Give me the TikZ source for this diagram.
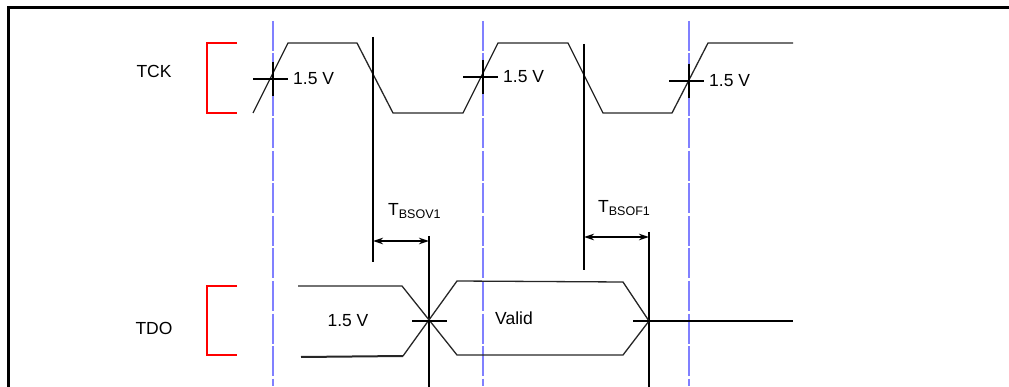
\documentclass[tikz,border=0pt]{standalone}
\usepackage{fontspec}
\setmainfont{Liberation Sans}
\usetikzlibrary{arrows.meta}
\definecolor{guide}{HTML}{8080FF}
\tikzset{
  frame/.style={line width=2.8pt,black},
  wave/.style={line width=1.3pt,black!85},
  guideline/.style={line width=2.7pt,guide,dash pattern=on 30pt off 2.5pt},
  bracket/.style={line width=2.4pt,red},
  marker/.style={line width=2.2pt,black},
  dim/.style={line width=2.2pt,black,{Stealth[length=10pt,width=6.5pt]}-{Stealth[length=10pt,width=6.5pt]}},
  lbl/.style={inner sep=0pt,font=\fontsize{17.5}{20}\selectfont},
}
\begin{document}
\begin{tikzpicture}[x=1pt,y=-1pt]
\useasboundingbox (0,0) rectangle (1009,387);
% frame
\coordinate (fb) at (8.5,387);
\coordinate (ft) at (8.5,7.5);
\coordinate (fr) at (1009,7.5);
\draw[frame] (fb) -- (ft) -- (fr);
% guide lines
\foreach \n/\x in {g1/273,g2/483,g3/689}{
  \coordinate (\n t) at (\x,21);
  \coordinate (\n b) at (\x,386);
  \draw[guideline] (\n t) -- (\n b);
}
% labels
\node[lbl] (tck) at (154,71) {TCK};
\node[lbl] (tdo) at (154,328) {TDO};
% brackets
\coordinate (b1a) at (237,43); \coordinate (b1b) at (207,43);
\coordinate (b1c) at (207,113); \coordinate (b1d) at (237,113);
\draw[bracket] (b1a) -- (b1b) -- (b1c) -- (b1d);
\coordinate (b2a) at (237,286); \coordinate (b2b) at (207,286);
\coordinate (b2c) at (207,355); \coordinate (b2d) at (237,355);
\draw[bracket] (b2a) -- (b2b) -- (b2c) -- (b2d);
% TCK waveform
\coordinate (k0) at (253,113); \coordinate (k1) at (288,43);
\coordinate (k2) at (357,43);  \coordinate (k3) at (393,113);
\coordinate (k4) at (463,113); \coordinate (k5) at (498,43);
\coordinate (k6) at (568,43);  \coordinate (k7) at (603,113);
\coordinate (k8) at (672,113); \coordinate (k9) at (708,43);
\coordinate (k10) at (793,43);
\draw[wave] (k0) -- (k1) -- (k2) -- (k3) -- (k4) -- (k5) -- (k6) -- (k7) -- (k8) -- (k9) -- (k10);
% crosses on TCK
\foreach \n/\x/\y in {c1/273/79,c2/483/77,c3/689/81}{
  \coordinate (\n l) at (\x-20,\y); \coordinate (\n r) at (\x+15,\y);
  \coordinate (\n t) at (\x,\y-17); \coordinate (\n b) at (\x,\y+17);
  \draw[marker] (\n l) -- (\n r);
  \draw[marker] (\n t) -- (\n b);
  \node[lbl,anchor=west] (\n v) at (\x+20,\y) {1.5 V};
}
% vertical reference lines
\coordinate (v1t) at (373,37);  \coordinate (v1b) at (373,262);
\coordinate (v2t) at (584,44);  \coordinate (v2b) at (584,270);
\coordinate (v3t) at (429,236); \coordinate (v3b) at (429,387);
\coordinate (v4t) at (649,232); \coordinate (v4b) at (649,387);
\draw[marker] (v1t) -- (v1b);
\draw[marker] (v2t) -- (v2b);
\draw[marker] (v3t) -- (v3b);
\draw[marker] (v4t) -- (v4b);
% dimension arrows
\coordinate (a1l) at (373,241); \coordinate (a1r) at (429,241);
\coordinate (a2l) at (584,237); \coordinate (a2r) at (649,237);
\draw[dim] (a1l) -- (a1r);
\draw[dim] (a2l) -- (a2r);
\node[lbl,anchor=west] (tv) at (388,211) {T\raisebox{-0.4ex}{\fontsize{12.5}{14}\selectfont BSOV1}};
\node[lbl,anchor=west] (tf) at (598,208) {T\raisebox{-0.4ex}{\fontsize{12.5}{14}\selectfont BSOF1}};
% TDO waveform
\coordinate (d1) at (298,286); \coordinate (d2) at (402,286);
\coordinate (d3) at (301,357); \coordinate (d4) at (403,356);
\coordinate (x1) at (429,321);
\coordinate (d5) at (457,281); \coordinate (d6) at (623,282);
\coordinate (d7) at (457,355); \coordinate (d8) at (623,355);
\coordinate (x2) at (649,321);
\draw[wave] (d1) -- (d2) -- (d7) -- (d8) -- (x2);
\draw[wave] (d4) -- (d5) -- (d6) -- (x2);
\draw[wave,line width=2pt] (d3) -- (d4);
\coordinate (h1l) at (412,321); \coordinate (h1r) at (447,321);
\draw[marker] (h1l) -- (h1r);
\coordinate (h2l) at (633,321); \coordinate (h2r) at (793,321);
\draw[marker] (h2l) -- (h2r);
\node[lbl] (lv) at (348,321) {1.5 V};
\node[lbl] (valid) at (514,318) {Valid};
\end{tikzpicture}
\end{document}
